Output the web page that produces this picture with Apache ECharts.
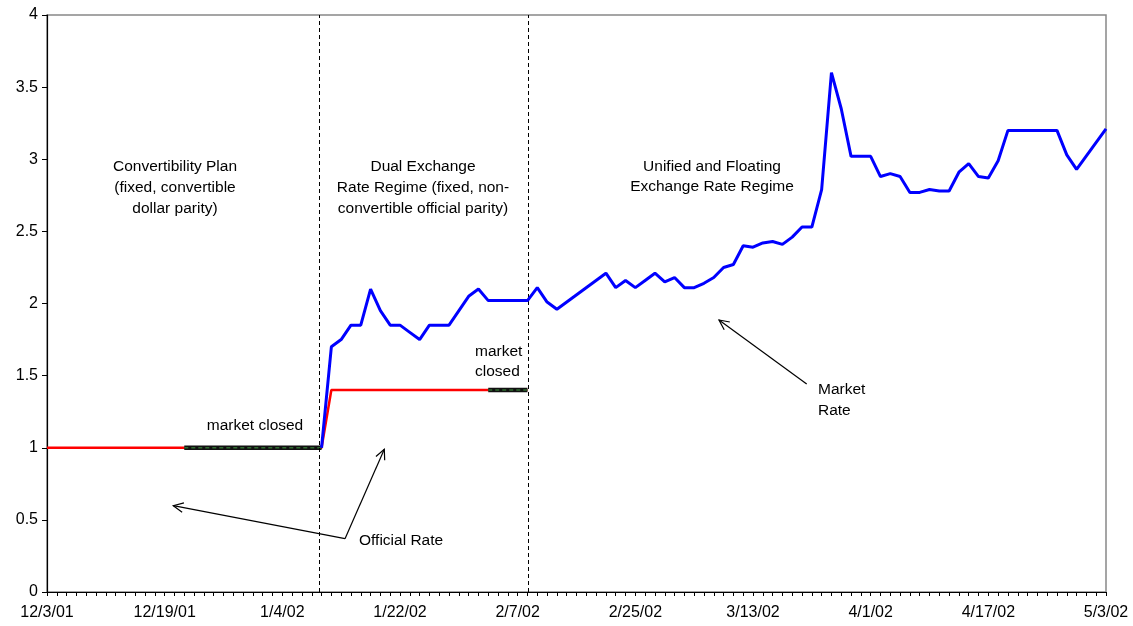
<!DOCTYPE html>
<html>
<head>
<meta charset="utf-8">
<script src="https://cdn.jsdelivr.net/npm/echarts@6/dist/echarts.min.js"></script>
<style>
html,body{margin:0;padding:0;background:#fff;}
#chart{width:1133px;height:626px;}
</style>
</head>
<body>
<div id="chart"></div>
<script>
// X axis: trading-day index (weekdays from 12/3/01 = 0 to 5/3/02 = 108)
var tickLabels = ['12/3/01','12/19/01','1/4/02','1/22/02','2/7/02','2/25/02','3/13/02','4/1/02','4/17/02','5/3/02'];
var yTicks = [0, 0.5, 1, 1.5, 2, 2.5, 3, 3.5, 4];

// Official rate (fixed): breakpoints
var officialIdx = [0, 28, 29, 49];
var officialVal = [1.0, 1.0, 1.4, 1.4];

// Market closed periods
var closed1Idx = [14, 28];
var closed1Val = [1.0, 1.0];
var closed2Idx = [45, 49];
var closed2Val = [1.4, 1.4];

// Market rate, starting at trading-day index 28
var marketStart = 28;
var marketRate = [
  1.00, 1.70, 1.75, 1.85, 1.85, 2.10, 1.95, 1.85, 1.85, 1.80,
  1.75, 1.85, 1.85, 1.85, null, 2.05, 2.10, 2.02, 2.02, 2.02,
  2.02, 2.02, 2.11, 2.01, 1.96, null, null, null, null, 2.21,
  2.11, 2.16, 2.11, 2.16, 2.21, 2.15, 2.18, 2.11, 2.11, 2.14,
  2.18, 2.25, 2.27, 2.40, 2.39, 2.42, 2.43, 2.41, 2.46, 2.53,
  2.53, 2.79, 3.60, 3.35, 3.02, 3.02, 3.02, 2.88, 2.90, 2.88,
  2.77, 2.77, 2.79, 2.78, 2.78, 2.91, 2.97, 2.88, 2.87, 2.99,
  3.20, 3.20, 3.20, 3.20, 3.20, 3.20, 3.03, 2.93, null, null,
  3.21
];

// Regime boundaries (trading-day index)
var regimeBreaks = [27.75, 49.05];

function pairs(xs, ys) { return xs.map(function (x, i) { return [x, ys[i]]; }); }
var marketData = marketRate.map(function (v, i) { return [marketStart + i, v]; });

var FONT = "'Liberation Sans', Arial, sans-serif";
var FS = 15.5;

function arrow(tx, ty, hx, hy) {
  var dx = hx - tx, dy = hy - ty, L = Math.sqrt(dx * dx + dy * dy);
  var ux = dx / L, uy = dy / L, len = 11, a = Math.PI / 7;
  function rot(ang) {
    var c = Math.cos(ang), s = Math.sin(ang);
    return [hx - len * (ux * c - uy * s), hy - len * (ux * s + uy * c)];
  }
  return [
    { type: 'line', shape: { x1: tx, y1: ty, x2: hx, y2: hy }, style: { stroke: '#000', lineWidth: 1.2 }, z: 100 },
    { type: 'polyline', shape: { points: [rot(a), [hx, hy], rot(-a)] }, style: { stroke: '#000', lineWidth: 1.2, fill: null }, z: 100 }
  ];
}

function txt(x, y, s, align, lh) {
  return { type: 'text', x: x, y: y, z: 100,
    style: { text: s, font: FS + 'px ' + FONT, fill: '#000', textAlign: align, textVerticalAlign: 'top', lineHeight: lh || 21 } };
}

var graphics = [
  txt(175, 156, 'Convertibility Plan\n(fixed, convertible\ndollar parity)', 'center', 21),
  txt(423, 156, 'Dual Exchange\nRate Regime (fixed, non-\nconvertible official parity)', 'center', 21),
  txt(712, 157, 'Unified and Floating\nExchange Rate Regime', 'center', 20),
  txt(255, 416, 'market closed', 'center', 20),
  txt(475, 342, 'market\nclosed', 'left', 20),
  txt(359, 531, 'Official Rate', 'left', 20),
  txt(818, 379, 'Market\nRate', 'left', 21)
].concat(arrow(345, 538.7, 173.3, 505.7))
 .concat(arrow(345, 538.7, 384.3, 449.3))
 .concat(arrow(806.7, 384, 719, 320));

var chart = echarts.init(document.getElementById('chart'), null, { renderer: 'canvas' });
chart.setOption({
  animation: false,
  backgroundColor: '#fff',
  grid: { left: 47, right: 27, top: 15, bottom: 34, show: true, borderColor: '#888', borderWidth: 1.5, backgroundColor: 'transparent' },
  xAxis: {
    type: 'value', min: 0, max: 108, interval: 12,
    axisLine: { show: true, lineStyle: { color: '#000', width: 1.2 } },
    axisTick: { show: true, length: 4, lineStyle: { color: '#000' } },
    minorTick: { show: true, splitNumber: 12, length: 4, lineStyle: { color: '#000' } },
    splitLine: { show: false },
    axisLabel: { color: '#000', fontFamily: FONT, fontSize: 16, margin: 13,
      showMinLabel: true, showMaxLabel: true,
      formatter: function (v) { return tickLabels[Math.round(v / 12)] || ''; } }
  },
  yAxis: {
    type: 'value', min: 0, max: 4, interval: 0.5,
    axisLine: { show: true, lineStyle: { color: '#000', width: 1.2 } },
    axisTick: { show: true, length: 5, lineStyle: { color: '#000' } },
    splitLine: { show: false },
    axisLabel: { color: '#000', fontFamily: FONT, fontSize: 16, margin: 9,
      formatter: function (v) { return String(v); } }
  },
  graphic: graphics,
  series: [
    { name: 'Official Rate', type: 'line', data: pairs(officialIdx, officialVal), showSymbol: false,
      lineStyle: { color: '#ff0000', width: 2.5 }, z: 2,
      markLine: { silent: true, symbol: 'none', label: { show: false },
        lineStyle: { color: '#000', width: 1, type: [4, 3] },
        data: regimeBreaks.map(function (b) { return { xAxis: b }; }) } },
    { name: 'closed1', type: 'line', data: pairs(closed1Idx, closed1Val), showSymbol: false,
      lineStyle: { color: '#111', width: 4.5 }, z: 3 },
    { name: 'closed1d', type: 'line', data: pairs(closed1Idx, closed1Val), showSymbol: false,
      lineStyle: { color: '#2f6b2f', width: 1.5, type: [4, 3] }, z: 4 },
    { name: 'closed2', type: 'line', data: pairs(closed2Idx, closed2Val), showSymbol: false,
      lineStyle: { color: '#111', width: 4.5 }, z: 3 },
    { name: 'closed2d', type: 'line', data: pairs(closed2Idx, closed2Val), showSymbol: false,
      lineStyle: { color: '#2f6b2f', width: 1.5, type: [4, 3] }, z: 4 },
    { name: 'Market Rate', type: 'line', data: marketData, showSymbol: false, connectNulls: true,
      lineStyle: { color: '#0000ff', width: 3 }, z: 5 }
  ]
});
</script>
</body>
</html>
